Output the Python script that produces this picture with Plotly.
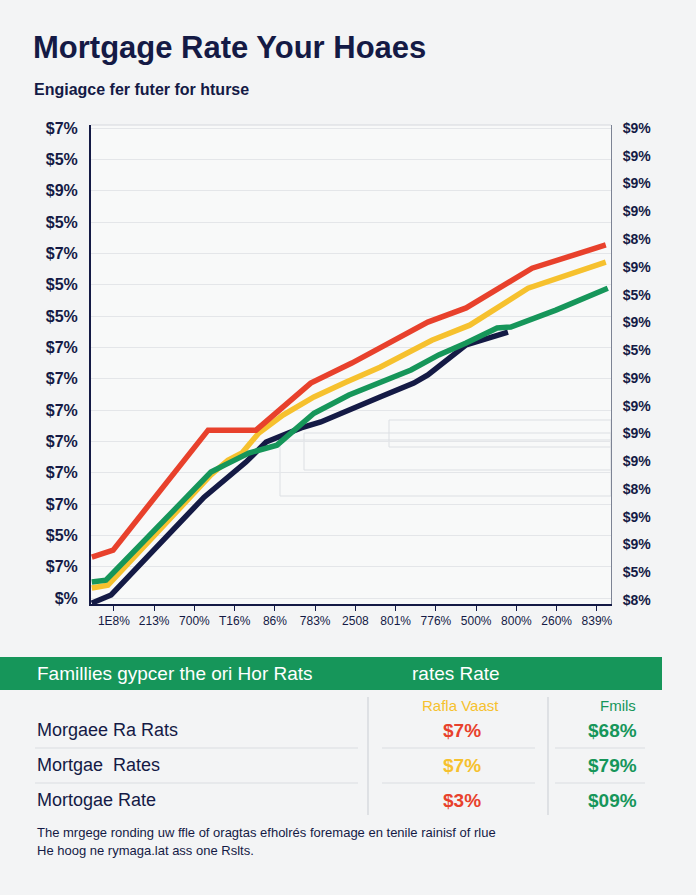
import plotly.graph_objects as go

# ---------------- data ----------------
x_labels = ["1E8%", "213%", "700%", "T16%", "86%", "783%", "2508", "801%",
            "776%", "500%", "800%", "260%", "839%"]
left_labels_top_down = ["$7%", "$5%", "$9%", "$5%", "$7%", "$5%", "$5%", "$7%",
                        "$7%", "$7%", "$7%", "$7%", "$7%", "$5%", "$7%", "$%"]
right_labels_top_down = ["$9%", "$9%", "$9%", "$9%", "$8%", "$9%", "$5%", "$9%", "$5%",
                         "$9%", "$9%", "$9%", "$9%", "$8%", "$9%", "$9%", "$5%", "$8%"]

red_x = [-0.55, -0.02, 2.34, 3.53, 4.89, 5.91, 7.80, 8.75, 10.39, 12.22]
red_y = [1.31, 1.53, 5.36, 5.36, 6.86, 7.50, 8.81, 9.26, 10.53, 11.27]

yellow_x = [-0.55, -0.15, 2.41, 2.83, 3.18, 3.60, 4.20, 4.97, 5.76, 6.61, 7.90, 8.84, 10.29, 12.22]
yellow_y = [0.32, 0.41, 3.93, 4.40, 4.63, 5.27, 5.84, 6.42, 6.89, 7.37, 8.23, 8.71, 9.89, 10.72]

green_x = [-0.55, -0.20, 0.0, 2.41, 2.76, 3.35, 4.05, 4.97, 5.84, 7.38, 8.07, 8.75, 9.52, 9.86, 10.98, 12.27]
green_y = [0.51, 0.57, 0.83, 4.02, 4.25, 4.63, 4.88, 5.90, 6.48, 7.28, 7.76, 8.14, 8.62, 8.65, 9.19, 9.89]

navy_x = [-0.55, -0.07, 2.24, 2.66, 3.28, 3.78, 4.65, 5.14, 5.91, 6.61, 7.45, 7.80, 8.75, 9.79]
navy_y = [-0.16, 0.10, 3.22, 3.67, 4.34, 4.98, 5.43, 5.62, 6.06, 6.42, 6.86, 7.12, 8.08, 8.49]

title_text = "Mortgage Rate Your Hoaes"
subtitle_text = "Engiagce fer futer for hturse"
banner_left = "Famillies gypcer the ori Hor Rats"
banner_right = "rates Rate"
col_headers = ["Rafla Vaast", "Fmils"]
row_labels = ["Morgaee Ra Rats", "Mortgae  Rates", "Mortogae Rate"]
col1_values = ["$7%", "$7%", "$3%"]
col2_values = ["$68%", "$79%", "$09%"]
footer_lines = ["The mrgege ronding uw ffle of oragtas efholrés foremage en tenile rainisf of rlue",
                "He hoog ne rymaga.lat ass one Rslts."]

# ---------------- style ----------------
NAVY = "#141A45"
RED = "#E8412C"
YELLOW = "#F6C12E"
GREEN = "#16965A"
BG = "#F3F4F5"
W, H = 696, 895
L, R, T, B = 91, 611, 125, 604


def px(x):
    return (x - L) / (R - L)


def py(y):
    return (B - y) / (B - T)


fig = go.Figure()
for xs, ys, c in [(navy_x, navy_y, NAVY), (yellow_x, yellow_y, YELLOW),
                  (green_x, green_y, GREEN), (red_x, red_y, RED)]:
    fig.add_trace(go.Scatter(x=xs, y=ys, mode="lines", line=dict(color=c, width=5.5),
                             showlegend=False, hoverinfo="skip"))

fig.add_trace(go.Scatter(x=[None], y=[None], yaxis="y2", showlegend=False, hoverinfo="skip"))

n_left = len(left_labels_top_down)
n_right = len(right_labels_top_down)

shapes = []
for (x0, y0, x1, y1) in [(389, 420, 611, 447), (304, 433, 611, 470), (280, 440, 611, 496)]:
    shapes.append(dict(type="rect", xref="paper", yref="paper", x0=px(x0), x1=px(x1),
                       y0=py(y1), y1=py(y0), line=dict(color="#DCDFE3", width=1), layer="below"))
shapes.append(dict(type="line", xref="paper", yref="paper", x0=0, x1=1, y0=1, y1=1,
                   line=dict(color="#D5D8DD", width=1)))
shapes.append(dict(type="rect", xref="paper", yref="paper", x0=px(0), x1=px(662),
                   y0=py(690), y1=py(657), fillcolor=GREEN, line=dict(width=0)))
for xv in [368, 548]:
    shapes.append(dict(type="line", xref="paper", yref="paper", x0=px(xv), x1=px(xv),
                       y0=py(815), y1=py(697), line=dict(color="#C9CDD3", width=1)))
for yv in [748, 783]:
    for (a, b) in [(35, 358), (382, 535), (555, 645)]:
        shapes.append(dict(type="line", xref="paper", yref="paper", x0=px(a), x1=px(b),
                           y0=py(yv), y1=py(yv), line=dict(color="#DADDE1", width=1)))

ann = []


def text(x, y, s, size, color, anchor="left", bold=False, family="Liberation Sans"):
    ann.append(dict(xref="paper", yref="paper", x=px(x), y=py(y), text=s, showarrow=False,
                    xanchor=anchor, yanchor="middle",
                    font=dict(size=size, color=color, family=family,
                              weight="bold" if bold else "normal")))


text(31, 48, title_text, 31, NAVY, bold=True)
text(32, 90, subtitle_text, 16, NAVY, bold=True)
text(35, 673, banner_left, 19, "white")
text(410, 673, banner_right, 19, "white")
text(460, 705, col_headers[0], 15, YELLOW, anchor="center")
text(618, 705, col_headers[1], 15, GREEN, anchor="center")
row_y = [730, 765, 800]
col1_colors = [RED, YELLOW, RED]
for i in range(len(row_labels)):
    text(35, row_y[i], row_labels[i], 18, NAVY)
    text(462, row_y[i], col1_values[i], 19, col1_colors[i], anchor="center", bold=True)
    text(612, row_y[i], col2_values[i], 19, GREEN, anchor="center", bold=True)
text(35, 832, footer_lines[0], 13, NAVY)
text(35, 850, footer_lines[1], 13, NAVY)

fig.update_layout(
    width=W, height=H,
    margin=dict(l=L, r=W - R, t=T, b=H - B, pad=0),
    paper_bgcolor=BG, plot_bgcolor="#F8F9F9",
    xaxis=dict(range=[-0.57, 12.35], tickmode="array", tickvals=list(range(len(x_labels))),
               ticktext=x_labels, ticks="outside", ticklen=5, tickcolor=NAVY,
               showline=True, linecolor=NAVY, linewidth=2, showgrid=False, zeroline=False,
               tickfont=dict(size=12, color=NAVY, family="Liberation Sans")),
    yaxis=dict(range=[-0.19, 15.1], tickmode="array", tickvals=list(range(n_left)),
               ticktext=left_labels_top_down[::-1], showline=True, linecolor=NAVY, linewidth=2,
               showgrid=True, gridcolor="#E4E6E9", gridwidth=1, zeroline=False, ticks="",
               ticklabelstandoff=8,
               tickfont=dict(size=16, color=NAVY, family="Liberation Sans", weight="bold")),
    yaxis2=dict(range=[-0.144, 17.11], overlaying="y", side="right", tickmode="array",
                tickvals=list(range(n_right)), ticktext=right_labels_top_down[::-1],
                showline=True, linecolor="#7C8394", linewidth=1, showgrid=False, zeroline=False,
                ticks="", ticklabelstandoff=8,
                tickfont=dict(size=14, color=NAVY, family="Liberation Sans", weight="bold")),
    shapes=shapes, annotations=ann,
)

fig.write_html("out.html", config={"displayModeBar": False},
               post_script="document.body.style.margin='0';document.body.style.background='%s';document.body.style.overflow='hidden';" % BG)
